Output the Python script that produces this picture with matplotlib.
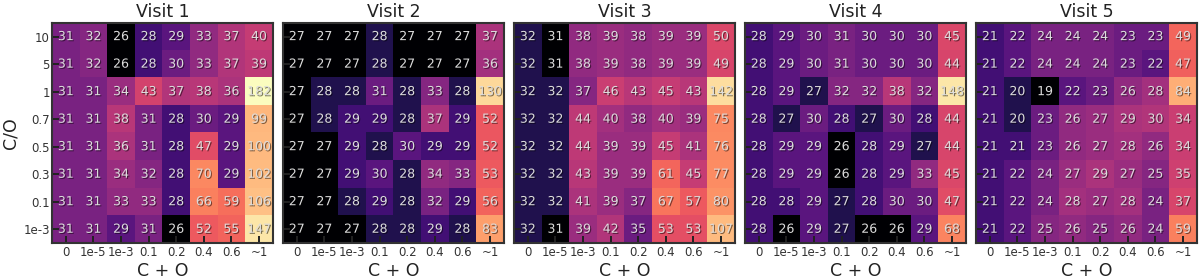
import numpy as np
import matplotlib
matplotlib.use('Agg')
import matplotlib.pyplot as plt
import matplotlib.patheffects as pe
from matplotlib.colors import LogNorm

# axes labels
c_plus_o = ['0', '1e-5', '1e-3', '0.1', '0.2', '0.4', '0.6', '~1']
c_to_o = ['10', '5', '1', '0.7', '0.5', '0.3', '0.1', '1e-3']

# rows = C/O (top to bottom), columns = C + O
visit1 = [[31, 32, 26, 28, 29, 33, 37, 40],
          [31, 32, 26, 28, 30, 33, 37, 39],
          [31, 31, 34, 43, 37, 38, 36, 182],
          [31, 31, 38, 31, 28, 30, 29, 99],
          [31, 31, 36, 31, 28, 47, 29, 100],
          [31, 31, 34, 32, 28, 70, 29, 102],
          [31, 31, 33, 33, 28, 66, 59, 106],
          [31, 31, 29, 31, 26, 52, 55, 147]]

visit2 = [[27, 27, 27, 28, 27, 27, 27, 37],
          [27, 27, 27, 28, 27, 27, 27, 36],
          [27, 28, 28, 31, 28, 33, 28, 130],
          [27, 28, 29, 29, 28, 37, 29, 52],
          [27, 27, 29, 28, 30, 29, 29, 52],
          [27, 27, 29, 30, 28, 34, 33, 53],
          [27, 27, 28, 29, 28, 32, 29, 56],
          [27, 27, 27, 28, 28, 29, 28, 83]]

visit3 = [[32, 31, 38, 39, 38, 39, 39, 50],
          [32, 31, 38, 39, 38, 39, 39, 49],
          [32, 32, 37, 46, 43, 45, 43, 142],
          [32, 32, 44, 40, 38, 40, 39, 75],
          [32, 32, 44, 39, 39, 45, 41, 76],
          [32, 32, 43, 39, 39, 61, 45, 77],
          [32, 32, 41, 39, 37, 67, 57, 80],
          [32, 31, 39, 42, 35, 53, 53, 107]]

visit4 = [[28, 29, 30, 31, 30, 30, 30, 45],
          [28, 29, 30, 31, 30, 30, 30, 44],
          [28, 29, 27, 32, 32, 38, 32, 148],
          [28, 27, 30, 28, 27, 30, 28, 44],
          [28, 29, 29, 26, 28, 29, 27, 44],
          [28, 29, 29, 26, 28, 29, 33, 45],
          [28, 28, 29, 27, 28, 30, 30, 47],
          [28, 26, 29, 27, 26, 26, 29, 68]]

visit5 = [[21, 22, 24, 24, 24, 23, 23, 49],
          [21, 22, 24, 24, 24, 23, 22, 47],
          [21, 20, 19, 22, 23, 26, 28, 84],
          [21, 20, 23, 26, 27, 29, 30, 34],
          [21, 21, 23, 26, 27, 28, 26, 34],
          [21, 22, 24, 27, 29, 27, 25, 35],
          [21, 22, 24, 28, 27, 28, 24, 37],
          [21, 22, 25, 26, 25, 26, 24, 59]]

visits = [visit1, visit2, visit3, visit4, visit5]
titles = ['Visit 1', 'Visit 2', 'Visit 3', 'Visit 4', 'Visit 5']

# colour = log of distance to the best cell of each visit, same scale for all
shifted = [np.array(v, dtype=float) - np.min(v) + 1 for v in visits]
zmax = max(s.max() for s in shifted)
norm = LogNorm(vmin=1, vmax=zmax)

fig = plt.figure(figsize=(12, 2.79), dpi=100)
shadow = [pe.SimplePatchShadow(offset=(0.8, -0.8), shadow_rgbFace='k', alpha=0.5), pe.Normal()]

for k in range(5):
    ax = fig.add_axes([0.0433 + k * 0.1925, 0.129, 0.184, 0.789])
    data = np.array(visits[k])
    ax.imshow(shifted[k], cmap='magma', norm=norm, aspect='auto', interpolation='nearest')
    for i in range(8):
        for j in range(8):
            ax.text(j, i, str(data[i, j]), ha='center', va='center', fontsize=9,
                    color='#dcdcdc', path_effects=shadow)
    ax.set_xticks(range(8))
    ax.set_xticklabels(c_plus_o, fontsize=8.5, color='#333333')
    ax.set_yticks(range(8))
    if k == 0:
        ax.set_yticklabels(c_to_o, fontsize=8.5, color='#333333')
        ax.set_ylabel('C/O', fontsize=12.5, color='#222222', labelpad=3)
    else:
        ax.set_yticklabels([])
    ax.tick_params(direction='in', length=5, width=1.4, color='#222222')
    ax.tick_params(axis='x', pad=2.5)
    ax.tick_params(axis='y', pad=1.5)
    ax.set_xlabel('C + O', fontsize=12.5, color='#222222', labelpad=1.5)
    ax.set_title(titles[k], fontsize=12.5, color='#222222', pad=4)
    for s in ax.spines.values():
        s.set_linewidth(1.5)
        s.set_color('#333333')

fig.savefig('out.png', dpi=100)
